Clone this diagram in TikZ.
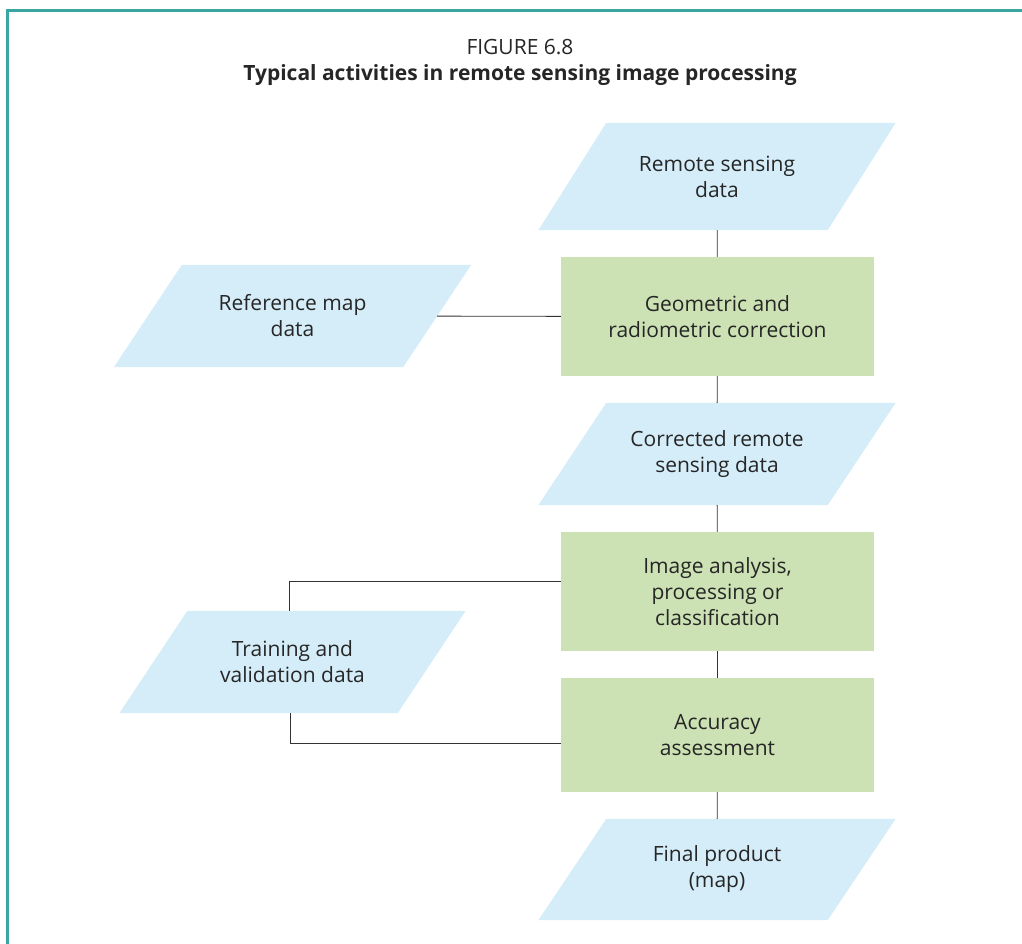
\documentclass[tikz,border=0pt]{standalone}
\usepackage{fontspec}
\setmainfont{Open Sans}
\usepackage{tikz}
\usetikzlibrary{backgrounds}
\definecolor{databg}{HTML}{D5EDF9}
\definecolor{procbg}{HTML}{CCE2B4}
\definecolor{framecol}{HTML}{3AA6A1}
\tikzstyle{datashape} = [rectangle, minimum width=289pt, minimum height=102pt, inner sep=2pt, align=center, font=\fontsize{21}{26}\selectfont, text=black!85]
\tikzstyle{procbox} = [rectangle, fill=procbg, minimum width=313pt, inner sep=2pt, align=center, font=\fontsize{21}{26}\selectfont, text=black!85]
\tikzstyle{link} = [draw=black!80, line width=0.9pt]

\begin{document}
\begin{tikzpicture}[x=1pt, y=-1pt]
\useasboundingbox (0,0) rectangle (1022,944);
\draw[framecol, line width=2.2pt] (7.5,944) -- (7.5,10.5) -- (1022,10.5);
\node[font=\fontsize{21}{24}\selectfont, text=black!85] (fignum) at (520,47) {FIGURE 6.8};
\node[font=\bfseries\fontsize{21}{24}\selectfont, text=black!85] (figtitle) at (520,75) {Typical activities in remote sensing image processing};
% data (parallelograms)
\node[datashape, minimum height=107pt] (rsdata) at (717,176.5) {Remote sensing\\data};
\node[datashape] (refmap) at (292.5,316) {Reference map\\data};
\node[datashape] (corrdata) at (717,454) {Corrected remote\\sensing data};
\node[datashape, minimum width=278pt] (train) at (292.5,662) {Training and\\validation data};
\node[datashape, minimum height=101pt] (final) at (717,869.5) {Final product\\(map)};
\begin{scope}[on background layer]
\foreach \n in {rsdata,refmap,corrdata,train,final}
  \fill[databg] ([xshift=34pt]\n.north west) -- ([xshift=34pt]\n.north east)
    -- ([xshift=-34pt]\n.south east) -- ([xshift=-34pt]\n.south west) -- cycle;
\end{scope}
% processing steps
\node[procbox, minimum height=119pt] (geocorr) at (717.5,316.5) {Geometric and\\radiometric correction};
\node[procbox, minimum height=119pt] (analysis) at (717.5,591.5) {Image analysis,\\processing or\\classification};
\node[procbox, minimum height=114pt] (accuracy) at (717.5,735) {Accuracy\\assessment};
% connectors
\draw[link] (rsdata) -- (geocorr);
\draw[link] (refmap) -- (geocorr);
\draw[link] (geocorr) -- (corrdata);
\draw[link] (corrdata) -- (analysis);
\draw[link] (analysis) -- (accuracy);
\draw[link] (accuracy) -- (final);
\draw[link] ([yshift=10.5pt]analysis.west) -| ([xshift=-3pt]train.north);
\draw[link] ([yshift=-8pt]accuracy.west) -| ([xshift=-2pt]train.south);
\end{tikzpicture}
\end{document}
